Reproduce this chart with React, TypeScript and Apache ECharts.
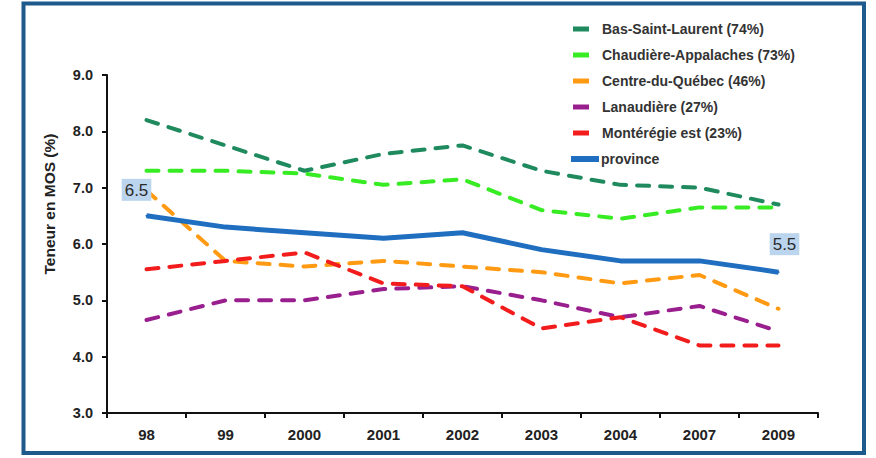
import React, { useEffect, useRef } from "react";
import * as echarts from "echarts";

const years = ["98", "99", "2000", "2001", "2002", "2003", "2004", "2007", "2009"];
const basSaintLaurent = [8.2, 7.75, 7.3, 7.6, 7.75, 7.3, 7.05, 7.0, 6.7];
const chaudiere = [7.3, 7.3, 7.25, 7.05, 7.15, 6.6, 6.45, 6.65, 6.65];
const centreDuQuebec = [6.95, 5.7, 5.6, 5.7, 5.6, 5.5, 5.3, 5.45, 4.85];
const lanaudiere = [4.65, 5.0, 5.0, 5.2, 5.25, 5.0, 4.7, 4.9, 4.45];
const monteregie = [5.55, 5.7, 5.85, 5.3, 5.25, 4.5, 4.7, 4.2, 4.2];
const province = [6.5, 6.3, 6.2, 6.1, 6.2, 5.9, 5.7, 5.7, 5.5];

const seriesNames = [
  "Bas-Saint-Laurent (74%)",
  "Chaudière-Appalaches (73%)",
  "Centre-du-Québec (46%)",
  "Lanaudière (27%)",
  "Montérégie est (23%)",
  "province",
];
const colors = ["#1e8a5e", "#38ec24", "#ff9a12", "#9a1f8e", "#f21c1c", "#1f6ec0"];

const FONT = "'Liberation Sans', Arial, sans-serif";

export default function App() {
  const ref = useRef<HTMLDivElement>(null);
  useEffect(() => {
    if (!ref.current) return;
    const chart = echarts.init(ref.current, null, { renderer: "svg" });
    const dashedData = [basSaintLaurent, chaudiere, centreDuQuebec, lanaudiere, monteregie];
    const dashedSeries = dashedData.map((d, i) => ({
      name: seriesNames[i],
      type: "line",
      data: d,
      symbol: "none",
      smooth: false,
      lineStyle: { color: colors[i], width: 4, type: [12, 11], cap: "round" },
      itemStyle: { color: colors[i] },
      z: 2,
    }));
    const labelBase = {
      show: true,
      position: "top",
      fontSize: 17,
      fontFamily: FONT,
      color: "#2a2a2a",
      backgroundColor: "#bcd5ef",
      padding: [3, 3, 2, 3],
      formatter: (p: any) => Number(p.value).toFixed(1),
    };
    const provinceData = province.map((v, i) => {
      if (i === 0) return { value: v, label: { ...labelBase, offset: [-10, -9] } };
      if (i === province.length - 1) return { value: v, label: { ...labelBase, offset: [6, -11] } };
      return { value: v };
    });
    const legendText = {
      fontFamily: FONT,
      fontSize: 14,
      fontWeight: "bold",
      color: "#333",
      lineHeight: 16,
    };
    chart.setOption({
      animation: false,
      backgroundColor: "#ffffff",
      grid: { left: 107, right: 58, top: 75, bottom: 45 },
      legend: [
        {
          data: seriesNames.slice(0, 5),
          orient: "vertical",
          left: 573,
          top: 21,
          padding: 0,
          icon: "rect",
          itemWidth: 16,
          itemHeight: 5,
          itemGap: 10,
          textStyle: { ...legendText, padding: [0, 0, 0, 8] },
        },
        {
          data: ["province"],
          orient: "vertical",
          left: 571,
          top: 151,
          padding: 0,
          icon: "rect",
          itemWidth: 28,
          itemHeight: 6,
          itemGap: 10,
          textStyle: { ...legendText, padding: [0, 0, 0, -3] },
        },
      ],
      xAxis: {
        type: "category",
        data: years,
        boundaryGap: true,
        axisLine: { lineStyle: { color: "#111", width: 2 } },
        axisTick: { show: true, length: 5, lineStyle: { color: "#111", width: 2 } },
        axisLabel: {
          fontFamily: FONT,
          fontSize: 15,
          fontWeight: "bold",
          color: "#222",
          margin: 14,
        },
        splitLine: { show: false },
      },
      yAxis: {
        type: "value",
        min: 3,
        max: 9,
        interval: 1,
        axisLine: { show: true, lineStyle: { color: "#111", width: 2 } },
        axisTick: { show: true, length: 5, lineStyle: { color: "#111", width: 2 } },
        axisLabel: {
          fontFamily: FONT,
          fontSize: 14.5,
          fontWeight: "bold",
          color: "#222",
          margin: 14,
          formatter: (v: number) => v.toFixed(1),
        },
        splitLine: { show: false },
      },
      graphic: [
        {
          type: "rect",
          shape: { x: 23.5, y: 3.5, width: 840.5, height: 449.5 },
          style: { fill: "none", stroke: "#1f5a8c", lineWidth: 4 },
          z: 100,
          silent: true,
        },
        {
          type: "text",
          x: 49,
          y: 204,
          rotation: Math.PI / 2,
          style: {
            text: "Teneur en MOS (%)",
            fontFamily: FONT,
            fontSize: 15.5,
            fontWeight: "bold",
            fill: "#222",
            textAlign: "center",
            textVerticalAlign: "middle",
          },
        },
      ],
      series: [
        ...dashedSeries,
        {
          name: "province",
          type: "line",
          data: provinceData,
          symbol: "circle",
          symbolSize: 2,
          showSymbol: true,
          lineStyle: { color: colors[5], width: 5 },
          itemStyle: { color: colors[5] },
          z: 3,
        },
      ],
    });
    return () => chart.dispose();
  }, []);
  return (
    <div
      ref={ref}
      style={{ position: "fixed", left: 0, top: 0, width: 876, height: 458 }}
    />
  );
}
